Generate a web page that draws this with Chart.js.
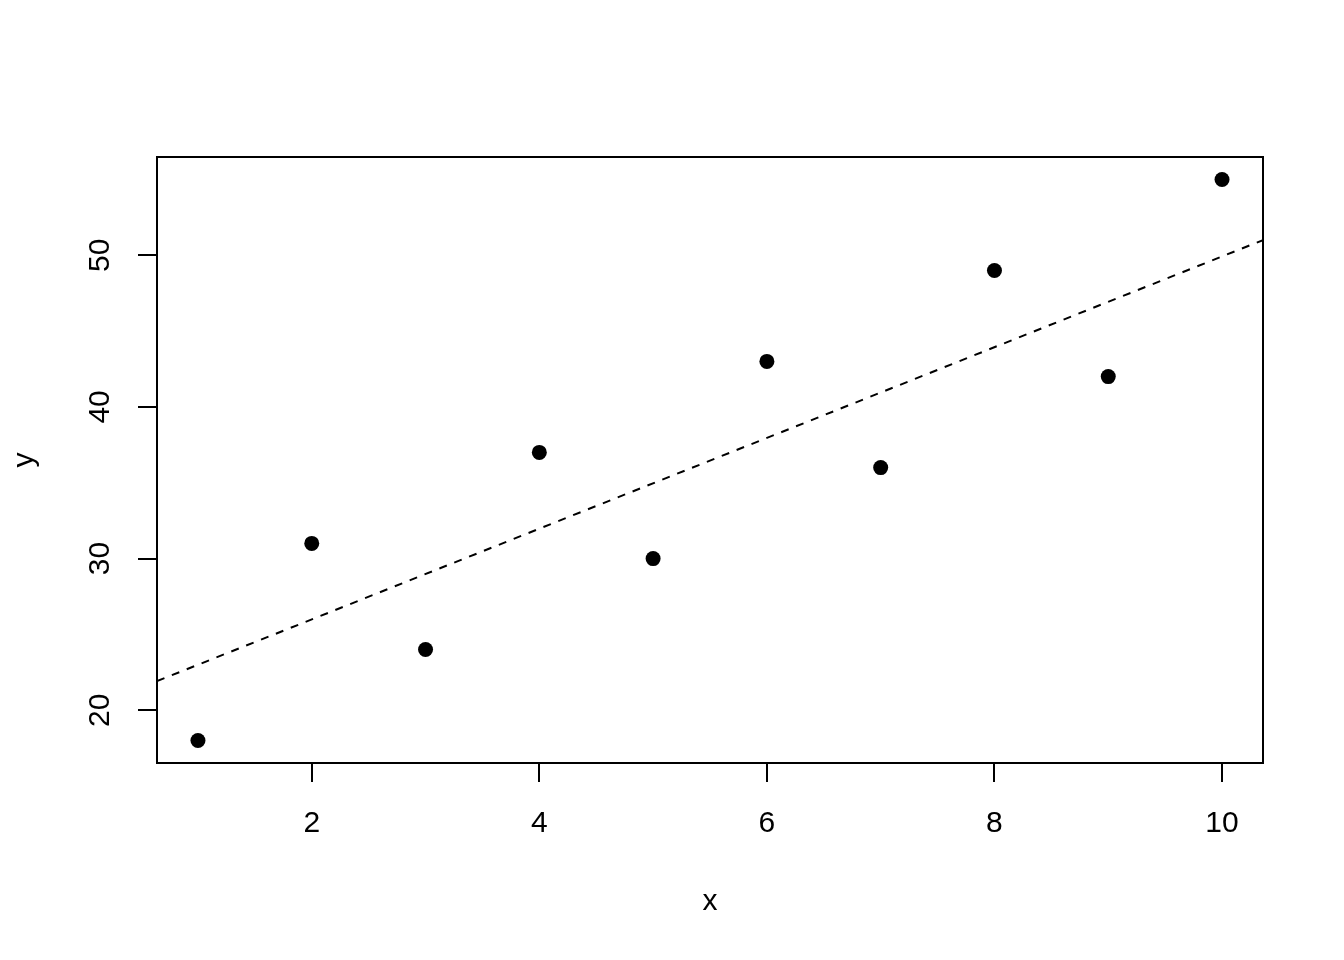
<!DOCTYPE html>
<html>
<head>
<meta charset="utf-8">
<script src="https://cdn.jsdelivr.net/npm/chart.js@4"></script>
<style>
  body { margin: 0; background: #fff; }
</style>
</head>
<body>
<canvas id="plot" width="1344" height="960"></canvas>
<script>
// data
const xValues = [1, 2, 3, 4, 5, 6, 7, 8, 9, 10];
const yValues = [18, 31, 24, 37, 30, 43, 36, 49, 42, 55];

// dashed reference line, end points at the plot edges
const lineX = [0.64, 10.36];
const lineY = [21.92, 51.0];

const xTicks = [2, 4, 6, 8, 10];
const yTicks = [20, 30, 40, 50];

const xRange = [0.64, 10.36];
const yRange = [16.52, 56.48];

const FONT = 'Liberation Sans, Arial, sans-serif';

// R style box around the plotting region
const boxPlugin = {
    id: 'box',
    afterDatasetsDraw(chart) {
        const { ctx, chartArea: a } = chart;
        ctx.save();
        ctx.strokeStyle = '#000';
        ctx.lineWidth = 2;
        ctx.strokeRect(a.left, a.top, a.right - a.left, a.bottom - a.top);
        ctx.restore();
    }
};

const ctx = document.getElementById('plot').getContext('2d');

new Chart(ctx, {
    type: 'scatter',
    data: {
        datasets: [
            {
                type: 'line',
                data: lineX.map((x, i) => ({ x: x, y: lineY[i] })),
                borderColor: '#000',
                borderWidth: 2,
                borderDash: [8, 8],
                pointRadius: 0,
                fill: false
            },
            {
                data: xValues.map((x, i) => ({ x: x, y: yValues[i] })),
                backgroundColor: '#000',
                borderWidth: 0,
                pointRadius: 7.5
            }
        ]
    },
    options: {
        responsive: false,
        animation: false,
        layout: { padding: { top: 157, right: 81, left: 0, bottom: 0 } },
        plugins: {
            legend: { display: false },
            tooltip: { enabled: false }
        },
        scales: {
            x: {
                type: 'linear',
                min: xRange[0],
                max: xRange[1],
                afterBuildTicks: scale => { scale.ticks = xTicks.map(v => ({ value: v })); },
                afterFit: scale => { scale.height = 197; },
                border: { display: false },
                grid: {
                    drawOnChartArea: false,
                    drawTicks: true,
                    tickLength: 19,
                    color: '#000',
                    lineWidth: 2
                },
                ticks: {
                    color: '#000',
                    padding: 24,
                    maxRotation: 0,
                    font: { family: FONT, size: 30 }
                },
                title: {
                    display: true,
                    text: 'x',
                    color: '#000',
                    padding: { top: 0, bottom: 40 },
                    font: { family: FONT, size: 30 }
                }
            },
            y: {
                type: 'linear',
                min: yRange[0],
                max: yRange[1],
                afterBuildTicks: scale => { scale.ticks = yTicks.map(v => ({ value: v })); },
                afterFit: scale => { scale.width = 157; },
                border: { display: false },
                grid: {
                    drawOnChartArea: false,
                    drawTicks: true,
                    tickLength: 19,
                    color: '#000',
                    lineWidth: 2
                },
                ticks: {
                    color: '#000',
                    padding: 21,
                    minRotation: 90,
                    maxRotation: 90,
                    crossAlign: 'center',
                    font: { family: FONT, size: 30 }
                },
                title: {
                    display: true,
                    text: 'y',
                    color: '#000',
                    padding: { top: 7, bottom: 0 },
                    font: { family: FONT, size: 30 }
                }
            }
        }
    },
    plugins: [boxPlugin]
});
</script>
</body>
</html>
